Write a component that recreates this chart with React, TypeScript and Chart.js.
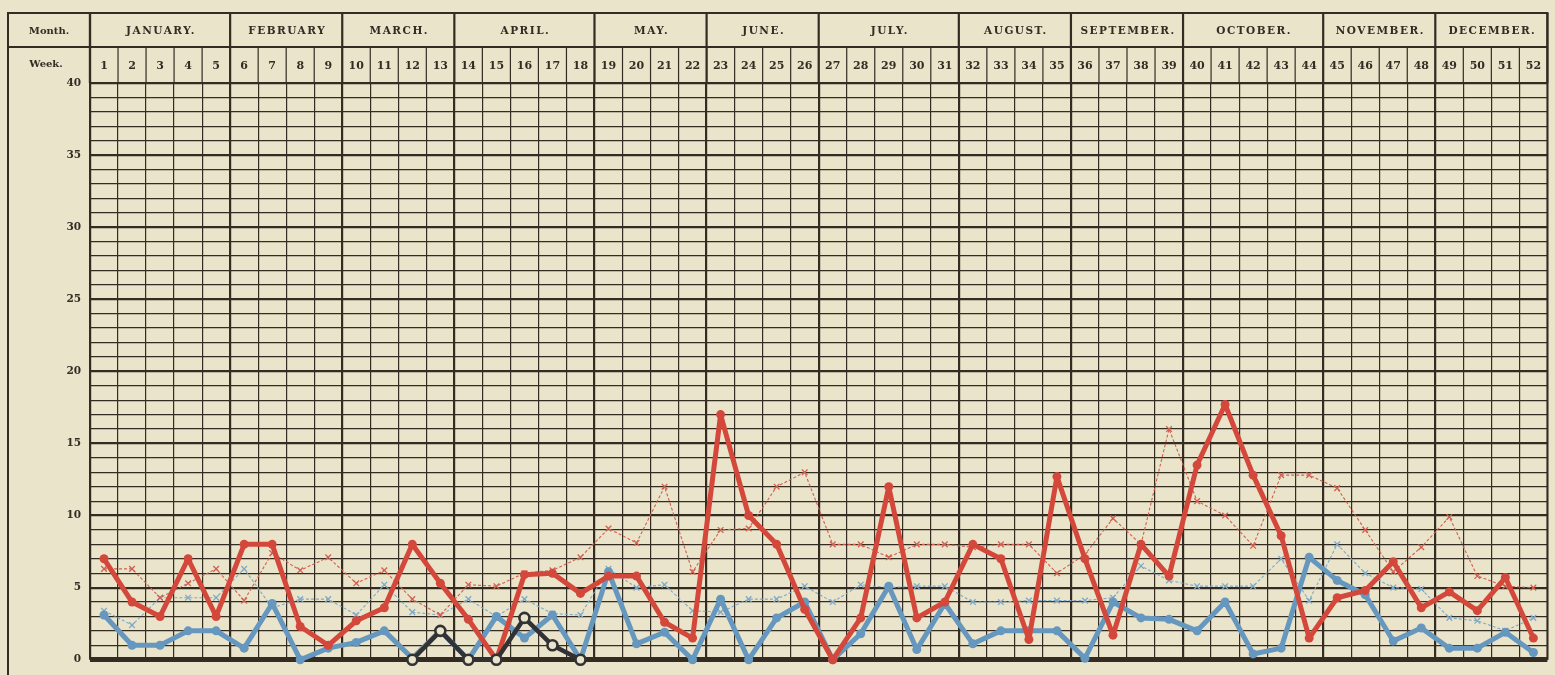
import React, { useEffect, useRef } from 'react';
import { Chart, registerables } from 'chart.js';

Chart.register(...registerables);

// ---------- DATA ----------
const weekLabels = [
  '1', '2', '3', '4', '5', '6', '7', '8', '9', '10', '11', '12', '13',
  '14', '15', '16', '17', '18', '19', '20', '21', '22', '23', '24', '25', '26',
  '27', '28', '29', '30', '31', '32', '33', '34', '35', '36', '37', '38', '39',
  '40', '41', '42', '43', '44', '45', '46', '47', '48', '49', '50', '51', '52',
];

const monthNames = [
  'JANUARY.', 'FEBRUARY', 'MARCH.', 'APRIL.', 'MAY.', 'JUNE.',
  'JULY.', 'AUGUST.', 'SEPTEMBER.', 'OCTOBER.', 'NOVEMBER.', 'DECEMBER.',
];
const monthWeekCounts = [5, 4, 4, 5, 4, 4, 5, 4, 4, 5, 4, 4];

const yTickValues = [0, 5, 10, 15, 20, 25, 30, 35, 40];

// thick red line with dots
const redSolid = [
  7, 4, 3, 7, 3, 8, 8, 2.3, 1, 2.7, 3.6, 8, 5.3,
  2.8, 0, 5.9, 6, 4.6, 5.8, 5.8, 2.6, 1.5, 17, 10, 8, 3.5,
  0, 2.9, 12, 2.9, 4, 8, 7, 1.4, 12.7, 7, 1.7, 8, 5.8,
  13.5, 17.7, 12.8, 8.6, 1.5, 4.3, 4.8, 6.8, 3.6, 4.7, 3.4, 5.7, 1.5,
];

// thin dotted red line with crosses
const redDashed = [
  6.3, 6.3, 4.3, 5.3, 6.3, 4.1, 7.4, 6.2, 7.1, 5.3, 6.2, 4.2, 3.1,
  5.2, 5.1, 6, 6.2, 7.1, 9.1, 8.1, 12, 6.1, 9, 9.1, 12, 13,
  8, 8, 7.1, 8, 8, 7.8, 8, 8, 6, 7.3, 9.8, 8, 16,
  11, 10, 7.9, 12.8, 12.8, 11.9, 9, 6.1, 7.8, 9.9, 5.8, 5.1, 5,
];

// thick blue line with dots
const blueSolid = [
  3.1, 1, 1, 2, 2, 0.8, 3.9, 0, 0.8, 1.2, 2, 0.1, 2,
  0, 3, 1.5, 3.1, 0, 6.1, 1.1, 1.9, 0, 4.2, 0, 2.9, 4,
  0, 1.8, 5.1, 0.7, 3.9, 1.1, 2, 2, 2, 0.1, 4, 2.9, 2.8,
  2, 4, 0.4, 0.8, 7.1, 5.5, 4.5, 1.3, 2.2, 0.8, 0.8, 1.9, 0.5,
];

// thin dotted blue line with crosses
const blueDashed = [
  3.4, 2.4, 4.3, 4.3, 4.3, 6.3, 3.6, 4.2, 4.2, 3.1, 5.2, 3.3, 3.1,
  4.2, 3, 4.2, 3.2, 3.1, 6.3, 5, 5.2, 3.4, 3.3, 4.2, 4.2, 5.1,
  4, 5.2, 5, 5.1, 5.1, 4, 4, 4.1, 4.1, 4.1, 4.3, 6.5, 5.5,
  5.1, 5.1, 5.1, 7, 4.1, 8, 6, 5, 4.9, 2.9, 2.7, 2, 2.9,
];

// black line with hollow rings (weeks 12-18 only)
const blackSolid = [
  null, null, null, null, null, null, null, null, null, null, null, 0, 2,
  0, 0, 2.9, 1, 0, null, null, null, null, null, null, null, null,
  null, null, null, null, null, null, null, null, null, null, null, null, null,
  null, null, null, null, null, null, null, null, null, null, null, null, null,
];

// ---------- STYLE ----------
const PAPER = '#eae4cb';
const INK = '#342b22';
const RED = '#d4483c';
const RED_LIGHT = '#d0604f';
const BLUE = '#6597bf';
const BLUE_LIGHT = '#7ea9c8';
const BLACK = '#323134';
const SERIF = '"DejaVu Serif", "Liberation Serif", serif';

const monthStartIdx: number[] = [];
{
  let acc = 0;
  monthWeekCounts.forEach((n) => {
    monthStartIdx.push(acc);
    acc += n;
  });
  monthStartIdx.push(acc);
}

const paperPlugin = {
  id: 'paperPlugin',
  beforeDraw(chart: any) {
    const { ctx, width, height } = chart;
    ctx.save();
    ctx.fillStyle = PAPER;
    ctx.fillRect(0, 0, width, height);
    ctx.restore();
  },
  afterDraw(chart: any) {
    const { ctx, chartArea, height } = chart;
    const xs = chart.scales.x;
    const L = 8;
    const T = 13;
    const M = 47;
    const B = chartArea.top;
    const R = chartArea.right;
    const colW = (xs.right - xs.left) / weekLabels.length;
    const edge = (i: number) => xs.left + i * colW;

    const line = (x1: number, y1: number, x2: number, y2: number, w: number) => {
      ctx.beginPath();
      ctx.lineWidth = w;
      ctx.moveTo(x1, y1);
      ctx.lineTo(x2, y2);
      ctx.stroke();
    };

    ctx.save();
    ctx.strokeStyle = INK;
    ctx.lineCap = 'butt';
    line(L - 1, T, R + 1, T, 2.2);
    line(L, M, R, M, 2.2);
    line(L, T, L, height, 2);
    line(R, T, R, chartArea.bottom, 2);
    line(chartArea.left, T, chartArea.left, B, 2.2);

    // week dividers in the week row
    for (let i = 1; i < weekLabels.length; i++) {
      line(edge(i), M, edge(i), B, 1.2);
    }
    // month dividers through both header rows
    monthStartIdx.forEach((i) => {
      line(edge(i), T, edge(i), B, 2.2);
    });

    // texts
    ctx.fillStyle = INK;
    ctx.textAlign = 'center';
    ctx.textBaseline = 'middle';
    ctx.font = `bold 10px ${SERIF}`;
    ctx.fillText('Month.', (L + chartArea.left) / 2, (T + M) / 2 + 1);
    ctx.fillText('Week.', (L + chartArea.left) / 2 - 3, (M + B) / 2 - 1);

    ctx.font = `bold 10.5px ${SERIF}`;
    try {
      (ctx as any).letterSpacing = '1.5px';
    } catch (e) {}
    monthNames.forEach((name, mi) => {
      const cx = (edge(monthStartIdx[mi]) + edge(monthStartIdx[mi + 1])) / 2;
      ctx.fillText(name, cx + 1, (T + M) / 2 + 1);
    });
    ctx.restore();
  },
};

export default function App() {
  const ref = useRef<HTMLCanvasElement>(null);

  useEffect(() => {
    if (!ref.current) return;
    const chart = new Chart(ref.current, {
      type: 'line',
      data: {
        labels: weekLabels,
        datasets: [
          {
            label: 'Black',
            data: blackSolid,
            borderColor: BLACK,
            borderWidth: 4.5,
            borderJoinStyle: 'round',
            borderCapStyle: 'round',
            pointRadius: 5,
            pointBorderWidth: 2.6,
            pointBorderColor: BLACK,
            pointBackgroundColor: PAPER,
            spanGaps: false,
            order: 0,
            clip: false,
          },
          {
            label: 'Red',
            data: redSolid,
            borderColor: RED,
            borderWidth: 5,
            borderJoinStyle: 'round',
            borderCapStyle: 'round',
            pointRadius: 4.5,
            pointBorderWidth: 0,
            pointBackgroundColor: RED,
            order: 1,
            clip: false,
          },
          {
            label: 'Blue',
            data: blueSolid,
            borderColor: BLUE,
            borderWidth: 5,
            borderJoinStyle: 'round',
            borderCapStyle: 'round',
            pointRadius: 4.5,
            pointBorderWidth: 0,
            pointBackgroundColor: BLUE,
            order: 2,
            clip: false,
          },
          {
            label: 'Red dotted',
            data: redDashed,
            borderColor: RED_LIGHT,
            borderWidth: 1.1,
            borderDash: [3, 2],
            pointStyle: 'crossRot',
            pointRadius: 4,
            pointBorderWidth: 1.3,
            pointBorderColor: RED_LIGHT,
            order: 3,
            clip: false,
          },
          {
            label: 'Blue dotted',
            data: blueDashed,
            borderColor: BLUE_LIGHT,
            borderWidth: 1.1,
            borderDash: [3, 2],
            pointStyle: 'crossRot',
            pointRadius: 4,
            pointBorderWidth: 1.3,
            pointBorderColor: BLUE_LIGHT,
            order: 4,
            clip: false,
          },
        ],
      },
      options: {
        responsive: false,
        animation: false,
        events: [],
        layout: { padding: { left: 8, top: 47, right: 2, bottom: 12 } },
        plugins: {
          legend: { display: false },
          tooltip: { enabled: false },
        },
        elements: { line: { tension: 0 } },
        scales: {
          x: {
            type: 'category',
            position: 'top',
            offset: true,
            grid: {
              offset: true,
              drawTicks: false,
              color: INK,
              lineWidth: (c: any) => (monthStartIdx.includes(c.index) ? 2.2 : 1.2),
            },
            border: { display: false },
            ticks: {
              color: INK,
              padding: 10,
              autoSkip: false,
              maxRotation: 0,
              font: { family: SERIF, size: 11, weight: 'bold' },
            },
            afterFit: (s: any) => {
              s.height = 36;
            },
          },
          y: {
            min: 0,
            max: 40,
            grid: {
              drawTicks: false,
              color: INK,
              lineWidth: (c: any) => {
                const v = c.tick ? c.tick.value : 1;
                if (v === 0) return 5;
                return v % 5 === 0 ? 2.2 : 1.2;
              },
            },
            border: { display: false },
            ticks: {
              stepSize: 1,
              autoSkip: false,
              padding: 9,
              color: INK,
              font: { family: SERIF, size: 10.5, weight: 'bold' },
              callback: (v: any) => (yTickValues.includes(Number(v)) ? String(v) : ''),
            },
            afterFit: (s: any) => {
              s.width = 82;
            },
          },
        },
      },
      plugins: [paperPlugin],
    } as any);
    return () => chart.destroy();
  }, []);

  return (
    <div style={{ position: 'fixed', left: 0, top: 0, width: 1555, height: 675, background: PAPER }}>
      <canvas ref={ref} width={1555} height={675} style={{ display: 'block' }} />
    </div>
  );
}
